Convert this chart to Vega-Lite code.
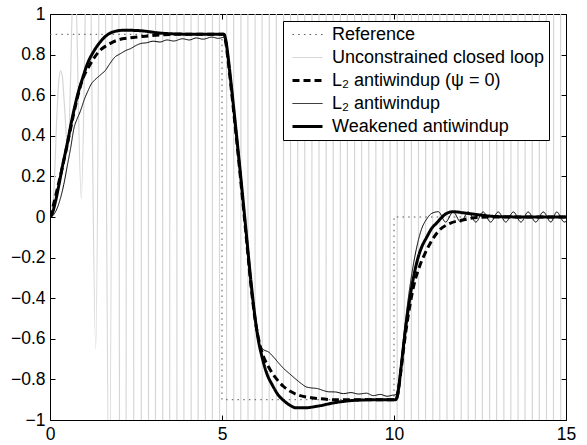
{
  "$schema": "https://vega.github.io/schema/vega-lite/v6.json",
  "width": 516,
  "height": 406,
  "autosize": {"type": "none"},
  "padding": {"left": 50, "top": 14, "right": 21, "bottom": 25},
  "background": "white",
  "config": {
    "view": {"stroke": "black", "strokeWidth": 1},
    "font": "Liberation Sans",
    "axis": {"domain": false, "grid": false, "tickColor": "black", "tickSize": -5, "tickWidth": 1, "labelFont": "Liberation Sans", "labelFontSize": 17.5, "labelColor": "black", "labelPadding": 10, "labelFlush": false, "labelOverlap": false},
    "legend": {"labelLimit": 400}
  },
  "data": {"values": [
    {"s":"u","t":0,"v":0},{"s":"u","t":0.06,"v":0.03},{"s":"u","t":0.12,"v":0.15},{"s":"u","t":0.2,"v":0.5},{"s":"u","t":0.26,"v":0.68},{"s":"u","t":0.31,"v":0.72},{"s":"u","t":0.36,"v":0.69},{"s":"u","t":0.42,"v":0.55},{"s":"u","t":0.52,"v":0.32},{"s":"u","t":0.71,"v":1.3},{"s":"u","t":0.91,"v":0.09},{"s":"u","t":1.12,"v":1.7},{"s":"u","t":1.33,"v":-0.65},{"s":"u","t":1.518,"v":3},{"s":"u","t":1.725,"v":-1.5},{"s":"u","t":1.932,"v":6},{"s":"u","t":2.139,"v":-12},{"s":"u","t":2.345,"v":25},
    {"s":"u","t":2.552,"v":-40},{"s":"u","t":2.759,"v":40},{"s":"u","t":2.965,"v":-40},{"s":"u","t":3.172,"v":40},{"s":"u","t":3.378,"v":-40},{"s":"u","t":3.585,"v":40},{"s":"u","t":3.792,"v":-40},{"s":"u","t":3.998,"v":40},{"s":"u","t":4.205,"v":-40},{"s":"u","t":4.411,"v":40},{"s":"u","t":4.618,"v":-40},{"s":"u","t":4.825,"v":40},{"s":"u","t":5.031,"v":-40},{"s":"u","t":5.238,"v":40},{"s":"u","t":5.444,"v":-40},{"s":"u","t":5.651,"v":40},{"s":"u","t":5.858,"v":-40},{"s":"u","t":6.064,"v":40},{"s":"u","t":6.271,"v":-40},{"s":"u","t":6.477,"v":40},{"s":"u","t":6.684,"v":-40},{"s":"u","t":6.891,"v":40},{"s":"u","t":7.097,"v":-40},{"s":"u","t":7.304,"v":40},{"s":"u","t":7.51,"v":-40},{"s":"u","t":7.717,"v":40},{"s":"u","t":7.924,"v":-40},{"s":"u","t":8.13,"v":40},{"s":"u","t":8.337,"v":-40},{"s":"u","t":8.543,"v":40},{"s":"u","t":8.75,"v":-40},{"s":"u","t":8.957,"v":40},{"s":"u","t":9.163,"v":-40},{"s":"u","t":9.37,"v":40},{"s":"u","t":9.576,"v":-40},{"s":"u","t":9.783,"v":40},{"s":"u","t":9.99,"v":-40},{"s":"u","t":10.196,"v":40},{"s":"u","t":10.403,"v":-40},{"s":"u","t":10.609,"v":40},{"s":"u","t":10.816,"v":-40},{"s":"u","t":11.023,"v":40},{"s":"u","t":11.229,"v":-40},{"s":"u","t":11.436,"v":40},{"s":"u","t":11.642,"v":-40},{"s":"u","t":11.849,"v":40},{"s":"u","t":12.056,"v":-40},{"s":"u","t":12.262,"v":40},{"s":"u","t":12.469,"v":-40},{"s":"u","t":12.675,"v":40},{"s":"u","t":12.882,"v":-40},{"s":"u","t":13.089,"v":40},{"s":"u","t":13.295,"v":-40},{"s":"u","t":13.502,"v":40},{"s":"u","t":13.708,"v":-40},{"s":"u","t":13.915,"v":40},{"s":"u","t":14.122,"v":-40},{"s":"u","t":14.328,"v":40},{"s":"u","t":14.535,"v":-40},{"s":"u","t":14.741,"v":40},{"s":"u","t":14.948,"v":-40},{"s":"u","t":15.155,"v":40},
    {"s":"r","t":0,"v":0.9},{"s":"r","t":5,"v":0.9},{"s":"r","t":5,"v":-0.9},{"s":"r","t":10,"v":-0.9},{"s":"r","t":10,"v":0},{"s":"r","t":15,"v":0},
    {"s":"p","t":0,"v":0},{"s":"p","t":0.1,"v":0.06},{"s":"p","t":0.2,"v":0.13},{"s":"p","t":0.34,"v":0.23},{"s":"p","t":0.53,"v":0.38},{"s":"p","t":0.73,"v":0.54},{"s":"p","t":0.92,"v":0.665},{"s":"p","t":1.16,"v":0.75},{"s":"p","t":1.45,"v":0.82},{"s":"p","t":1.7,"v":0.85},{"s":"p","t":1.94,"v":0.87},{"s":"p","t":2.3,"v":0.882},{"s":"p","t":2.62,"v":0.888},{"s":"p","t":3.2,"v":0.897},{"s":"p","t":3.8,"v":0.9},{"s":"p","t":5.05,"v":0.9},
    {"s":"p","t":5.1,"v":0.87},{"s":"p","t":5.17,"v":0.78},{"s":"p","t":5.25,"v":0.66},{"s":"p","t":5.4,"v":0.42},{"s":"p","t":5.55,"v":0.17},{"s":"p","t":5.7,"v":-0.09},{"s":"p","t":5.85,"v":-0.35},{"s":"p","t":5.95,"v":-0.49},{"s":"p","t":6.05,"v":-0.59},{"s":"p","t":6.15,"v":-0.66},{"s":"p","t":6.36,"v":-0.74},{"s":"p","t":6.55,"v":-0.79},{"s":"p","t":6.79,"v":-0.835},{"s":"p","t":7.0,"v":-0.86},{"s":"p","t":7.23,"v":-0.878},{"s":"p","t":7.5,"v":-0.888},{"s":"p","t":7.77,"v":-0.894},{"s":"p","t":8.3,"v":-0.9},{"s":"p","t":10.05,"v":-0.9},
    {"s":"p","t":10.1,"v":-0.88},{"s":"p","t":10.2,"v":-0.76},{"s":"p","t":10.3,"v":-0.62},{"s":"p","t":10.4,"v":-0.5},{"s":"p","t":10.5,"v":-0.4},{"s":"p","t":10.6,"v":-0.32},{"s":"p","t":10.75,"v":-0.24},{"s":"p","t":10.9,"v":-0.18},{"s":"p","t":11.05,"v":-0.13},{"s":"p","t":11.29,"v":-0.07},{"s":"p","t":11.63,"v":-0.031},{"s":"p","t":12.0,"v":-0.015},{"s":"p","t":12.4,"v":-0.003},{"s":"p","t":13,"v":0},{"s":"p","t":15,"v":0},
    {"s":"l","t":0,"v":0},{"s":"l","t":0.1,"v":0.01},{"s":"l","t":0.2,"v":0.04},{"s":"l","t":0.3,"v":0.09},{"s":"l","t":0.4,"v":0.16},{"s":"l","t":0.5,"v":0.25},{"s":"l","t":0.6,"v":0.34},{"s":"l","t":0.7,"v":0.44},{"s":"l","t":0.78,"v":0.48},{"s":"l","t":0.88,"v":0.52},{"s":"l","t":1.0,"v":0.58},{"s":"l","t":1.1,"v":0.62},{"s":"l","t":1.2,"v":0.655},{"s":"l","t":1.3,"v":0.675},{"s":"l","t":1.4,"v":0.69},{"s":"l","t":1.5,"v":0.705},{"s":"l","t":1.6,"v":0.72},{"s":"l","t":1.7,"v":0.745},{"s":"l","t":1.8,"v":0.77},{"s":"l","t":1.9,"v":0.79},{"s":"l","t":2.0,"v":0.8},{"s":"l","t":2.1,"v":0.81},{"s":"l","t":2.2,"v":0.82},{"s":"l","t":2.35,"v":0.83},{"s":"l","t":2.5,"v":0.845},{"s":"l","t":2.65,"v":0.855},{"s":"l","t":2.8,"v":0.858},{"s":"l","t":3.0,"v":0.866},{"s":"l","t":3.2,"v":0.862},{"s":"l","t":3.4,"v":0.872},{"s":"l","t":3.6,"v":0.867},{"s":"l","t":3.85,"v":0.878},{"s":"l","t":4.05,"v":0.872},{"s":"l","t":4.25,"v":0.882},{"s":"l","t":4.45,"v":0.876},{"s":"l","t":4.7,"v":0.886},{"s":"l","t":4.9,"v":0.88},{"s":"l","t":5.05,"v":0.885},
    {"s":"l","t":5.1,"v":0.86},{"s":"l","t":5.17,"v":0.77},{"s":"l","t":5.25,"v":0.65},{"s":"l","t":5.4,"v":0.41},{"s":"l","t":5.55,"v":0.16},{"s":"l","t":5.7,"v":-0.1},{"s":"l","t":5.85,"v":-0.36},{"s":"l","t":5.95,"v":-0.5},{"s":"l","t":6.05,"v":-0.6},{"s":"l","t":6.15,"v":-0.645},{"s":"l","t":6.22,"v":-0.655},{"s":"l","t":6.35,"v":-0.665},{"s":"l","t":6.5,"v":-0.69},{"s":"l","t":6.65,"v":-0.72},{"s":"l","t":6.79,"v":-0.746},{"s":"l","t":6.95,"v":-0.77},{"s":"l","t":7.12,"v":-0.795},{"s":"l","t":7.3,"v":-0.82},{"s":"l","t":7.45,"v":-0.837},{"s":"l","t":7.6,"v":-0.842},{"s":"l","t":7.77,"v":-0.845},{"s":"l","t":7.95,"v":-0.855},{"s":"l","t":8.1,"v":-0.861},{"s":"l","t":8.3,"v":-0.862},{"s":"l","t":8.53,"v":-0.87},{"s":"l","t":8.75,"v":-0.865},{"s":"l","t":8.97,"v":-0.872},{"s":"l","t":9.2,"v":-0.868},{"s":"l","t":9.4,"v":-0.88},{"s":"l","t":9.6,"v":-0.874},{"s":"l","t":9.8,"v":-0.883},{"s":"l","t":9.95,"v":-0.878},{"s":"l","t":10.05,"v":-0.875},
    {"s":"l","t":10.1,"v":-0.85},{"s":"l","t":10.2,"v":-0.72},{"s":"l","t":10.3,"v":-0.56},{"s":"l","t":10.4,"v":-0.42},{"s":"l","t":10.5,"v":-0.3},{"s":"l","t":10.6,"v":-0.2},{"s":"l","t":10.7,"v":-0.12},{"s":"l","t":10.8,"v":-0.06},{"s":"l","t":10.95,"v":-0.01},{"s":"l","t":11.1,"v":0.018},{"s":"l","t":11.29,"v":0.026},{"s":"l","t":11.5,"v":-0.025},{"s":"l","t":11.72,"v":0.025},{"s":"l","t":11.94,"v":-0.025},{"s":"l","t":12.16,"v":0.025},{"s":"l","t":12.38,"v":-0.025},{"s":"l","t":12.59,"v":0.025},{"s":"l","t":12.81,"v":-0.025},{"s":"l","t":13.03,"v":0.025},{"s":"l","t":13.25,"v":-0.025},{"s":"l","t":13.47,"v":0.025},{"s":"l","t":13.69,"v":-0.025},{"s":"l","t":13.9,"v":0.025},{"s":"l","t":14.12,"v":-0.025},{"s":"l","t":14.34,"v":0.025},{"s":"l","t":14.56,"v":-0.025},{"s":"l","t":14.73,"v":0.025},{"s":"l","t":14.95,"v":-0.025},{"s":"l","t":15,"v":-0.022},
    {"s":"w","t":0,"v":0},{"s":"w","t":0.05,"v":0.01},{"s":"w","t":0.15,"v":0.07},{"s":"w","t":0.25,"v":0.15},{"s":"w","t":0.35,"v":0.24},{"s":"w","t":0.5,"v":0.36},{"s":"w","t":0.65,"v":0.49},{"s":"w","t":0.8,"v":0.6},{"s":"w","t":0.95,"v":0.685},{"s":"w","t":1.1,"v":0.76},{"s":"w","t":1.25,"v":0.81},{"s":"w","t":1.45,"v":0.86},{"s":"w","t":1.65,"v":0.895},{"s":"w","t":1.9,"v":0.915},{"s":"w","t":2.15,"v":0.92},{"s":"w","t":2.6,"v":0.918},{"s":"w","t":3.2,"v":0.906},{"s":"w","t":3.8,"v":0.901},{"s":"w","t":4.5,"v":0.9},{"s":"w","t":5.05,"v":0.9},
    {"s":"w","t":5.1,"v":0.88},{"s":"w","t":5.17,"v":0.8},{"s":"w","t":5.25,"v":0.68},{"s":"w","t":5.4,"v":0.44},{"s":"w","t":5.55,"v":0.19},{"s":"w","t":5.7,"v":-0.07},{"s":"w","t":5.85,"v":-0.33},{"s":"w","t":5.95,"v":-0.48},{"s":"w","t":6.05,"v":-0.6},{"s":"w","t":6.15,"v":-0.68},{"s":"w","t":6.3,"v":-0.77},{"s":"w","t":6.47,"v":-0.83},{"s":"w","t":6.65,"v":-0.88},{"s":"w","t":6.8,"v":-0.905},{"s":"w","t":7.0,"v":-0.93},{"s":"w","t":7.15,"v":-0.94},{"s":"w","t":7.4,"v":-0.94},{"s":"w","t":7.77,"v":-0.932},{"s":"w","t":8.3,"v":-0.914},{"s":"w","t":8.86,"v":-0.903},{"s":"w","t":9.5,"v":-0.9},{"s":"w","t":10.05,"v":-0.9},
    {"s":"w","t":10.1,"v":-0.88},{"s":"w","t":10.2,"v":-0.75},{"s":"w","t":10.3,"v":-0.6},{"s":"w","t":10.4,"v":-0.47},{"s":"w","t":10.5,"v":-0.36},{"s":"w","t":10.6,"v":-0.27},{"s":"w","t":10.7,"v":-0.2},{"s":"w","t":10.8,"v":-0.15},{"s":"w","t":10.95,"v":-0.1},{"s":"w","t":11.1,"v":-0.055},{"s":"w","t":11.24,"v":-0.03},{"s":"w","t":11.4,"v":0.0},{"s":"w","t":11.53,"v":0.018},{"s":"w","t":11.72,"v":0.026},{"s":"w","t":12.0,"v":0.021},{"s":"w","t":12.5,"v":0.01},{"s":"w","t":13.0,"v":0.002},{"s":"w","t":14,"v":0},{"s":"w","t":15,"v":0}
  ]},
  "encoding": {
    "color": {"field": "s", "type": "nominal", "scale": {"domain": ["r","u","p","l","w"], "range": ["#555555","#d6d6d6","black","black","black"]},
      "legend": {"orient": "none", "legendX": 233, "legendY": 7, "title": null, "symbolType": "stroke", "symbolSize": 900, "clipHeight": 19, "rowPadding": 4, "padding": 4, "symbolOffset": 4, "labelOffset": 8, "labelLimit": 400, "strokeColor": "black", "fillColor": "white", "labelFont": "Liberation Sans", "labelFontSize": 18, "labelColor": "black",
        "labelExpr": "datum.label === 'r' ? 'Reference' : datum.label === 'u' ? 'Unconstrained closed loop' : datum.label === 'p' ? 'L₂ antiwindup (ψ = 0)' : datum.label === 'l' ? 'L₂ antiwindup' : 'Weakened antiwindup'"}},
    "strokeDash": {"field": "s", "type": "nominal", "scale": {"domain": ["r","u","p","l","w"], "range": [[1.5,4.2],[1,0],[7,4],[1,0],[1,0]]},
      "legend": {"orient": "none", "legendX": 233, "legendY": 7, "title": null, "symbolType": "stroke", "symbolSize": 900, "clipHeight": 19, "rowPadding": 4, "padding": 4, "symbolOffset": 4, "labelOffset": 8, "labelLimit": 400, "strokeColor": "black", "fillColor": "white", "labelFont": "Liberation Sans", "labelFontSize": 18, "labelColor": "black",
        "labelExpr": "datum.label === 'r' ? 'Reference' : datum.label === 'u' ? 'Unconstrained closed loop' : datum.label === 'p' ? 'L₂ antiwindup (ψ = 0)' : datum.label === 'l' ? 'L₂ antiwindup' : 'Weakened antiwindup'"}},
    "strokeWidth": {"field": "s", "type": "nominal", "scale": {"type": "ordinal", "domain": ["r","u","p","l","w"], "range": [1,1.2,3,1,3]},
      "legend": {"orient": "none", "legendX": 233, "legendY": 7, "title": null, "symbolType": "stroke", "symbolSize": 900, "clipHeight": 19, "rowPadding": 4, "padding": 4, "symbolOffset": 4, "labelOffset": 8, "labelLimit": 400, "strokeColor": "black", "fillColor": "white", "labelFont": "Liberation Sans", "labelFontSize": 18, "labelColor": "black",
        "labelExpr": "datum.label === 'r' ? 'Reference' : datum.label === 'u' ? 'Unconstrained closed loop' : datum.label === 'p' ? 'L₂ antiwindup (ψ = 0)' : datum.label === 'l' ? 'L₂ antiwindup' : 'Weakened antiwindup'"}}
  },
  "layer": [
    {
      "transform": [{"filter": "datum.s === 'u'"}],
      "mark": {"type": "line", "interpolate": "monotone", "clip": true},
      "encoding": {
        "x": {"field": "t", "type": "quantitative", "scale": {"domain": [0, 15], "nice": false, "zero": false},
          "axis": {"orient": "bottom", "title": null, "values": [0, 5, 10, 15], "format": "~g"}},
        "y": {"field": "v", "type": "quantitative", "scale": {"domain": [-1, 1], "nice": false, "zero": false},
          "axis": {"orient": "left", "title": null, "values": [-1, -0.8, -0.6, -0.4, -0.2, 0, 0.2, 0.4, 0.6, 0.8, 1], "format": "~g"}}
      }
    },
    {
      "transform": [{"filter": "datum.s === 'r'"}],
      "mark": {"type": "line", "interpolate": "linear", "clip": true},
      "encoding": {
        "x": {"field": "t", "type": "quantitative", "scale": {"domain": [0, 15], "nice": false, "zero": false},
          "axis": {"orient": "top", "title": null, "values": [0, 5, 10, 15], "labels": false}},
        "y": {"field": "v", "type": "quantitative", "scale": {"domain": [-1, 1], "nice": false, "zero": false},
          "axis": {"orient": "right", "title": null, "values": [-1, -0.8, -0.6, -0.4, -0.2, 0, 0.2, 0.4, 0.6, 0.8, 1], "labels": false}}
      }
    },
    {
      "transform": [{"filter": "datum.s === 'p' || datum.s === 'l' || datum.s === 'w'"}],
      "mark": {"type": "line", "interpolate": "monotone", "clip": true},
      "encoding": {
        "x": {"field": "t", "type": "quantitative", "scale": {"domain": [0, 15], "nice": false, "zero": false}, "axis": null},
        "y": {"field": "v", "type": "quantitative", "scale": {"domain": [-1, 1], "nice": false, "zero": false}, "axis": null}
      }
    }
  ],
  "resolve": {"axis": {"x": "independent", "y": "independent"}}
}
